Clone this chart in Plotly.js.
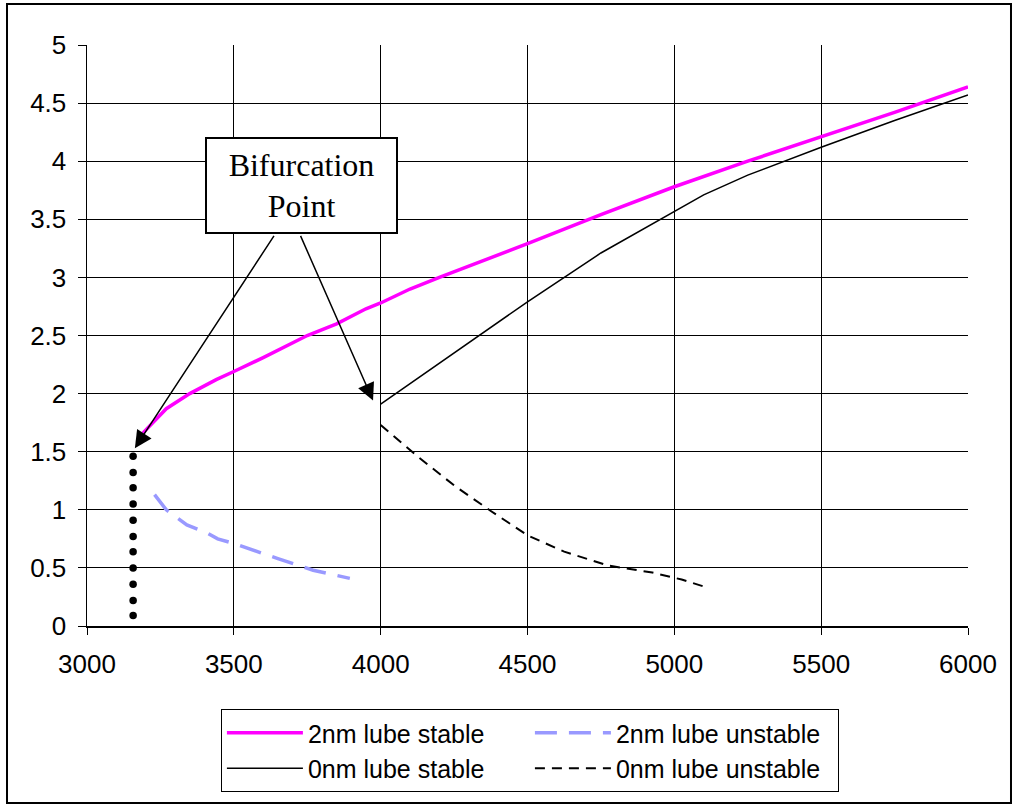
<!DOCTYPE html>
<html>
<head>
<meta charset="utf-8">
<script src="https://cdn.plot.ly/plotly-3.0.1.min.js"></script>
<style>
  html, body { margin: 0; padding: 0; background: #fff; }
  #chart { width: 1013px; height: 805px; }
</style>
</head>
<body>
<div id="chart"></div>
<script>
// ---- data ----
const stable2nmX = [3190, 3220, 3270, 3350, 3440, 3500, 3600, 3750, 3850, 3950, 4000, 4050, 4100, 4200, 4500, 4750, 5000, 5250, 5500, 5750, 6000];
const stable2nmY = [1.66, 1.74, 1.87, 2.00, 2.12, 2.19, 2.31, 2.50, 2.60, 2.73, 2.78, 2.84, 2.90, 3.00, 3.29, 3.54, 3.78, 4.00, 4.21, 4.42, 4.64];

const unstable2nmX = [3230, 3270, 3340, 3410, 3445, 3500, 3650, 3770, 3895];
const unstable2nmY = [1.13, 1.00, 0.87, 0.80, 0.75, 0.71, 0.58, 0.48, 0.41];

const stable0nmX = [4000, 4250, 4500, 4750, 5000, 5100, 5250, 5500, 5750, 6000];
const stable0nmY = [1.91, 2.35, 2.79, 3.21, 3.57, 3.71, 3.88, 4.12, 4.35, 4.57];

const unstable0nmX = [4000, 4130, 4250, 4375, 4500, 4625, 4775, 4925, 5025, 5100];
const unstable0nmY = [1.73, 1.45, 1.21, 0.99, 0.78, 0.64, 0.52, 0.46, 0.40, 0.34];

const bifurcLineX = [3157, 3157, 3157, 3157, 3157, 3157, 3157, 3157, 3157, 3157, 3157];
const bifurcLineY = [1.46, 1.32, 1.19, 1.05, 0.91, 0.77, 0.64, 0.50, 0.36, 0.22, 0.09];

const seriesNames = ['2nm lube stable', '2nm lube unstable', '0nm lube stable', '0nm lube unstable'];

const xTicks = [3000, 3500, 4000, 4500, 5000, 5500, 6000];
const yTicks = [0, 0.5, 1, 1.5, 2, 2.5, 3, 3.5, 4, 4.5, 5];

const calloutText = 'Bifurcation<br>Point';
const calloutPos = {x: 3732, y: 3.79};
const arrowTips = [{x: 3163, y: 1.53, ax: 3640, ay: 3.37}, {x: 3974, y: 1.94, ax: 3725, ay: 3.37}];

// ---- traces ----
const traces = [
  {x: stable2nmX, y: stable2nmY, name: seriesNames[0], mode: 'lines',
   line: {color: '#FF00FF', width: 3.5}},
  {x: unstable2nmX, y: unstable2nmY, name: seriesNames[1], mode: 'lines',
   line: {color: '#9999FF', width: 3.5, dash: '22px,12px'}},
  {x: stable0nmX, y: stable0nmY, name: seriesNames[2], mode: 'lines',
   line: {color: '#000000', width: 1.5}},
  {x: unstable0nmX, y: unstable0nmY, name: seriesNames[3], mode: 'lines',
   line: {color: '#000000', width: 2, dash: '10px,7px'}},
  {x: bifurcLineX, y: bifurcLineY, mode: 'markers', showlegend: false,
   marker: {color: '#000000', size: 7.5}}
];

const axisFont = {family: 'Liberation Sans, Arial, sans-serif', size: 26, color: '#000'};

const annotations = [
  {x: calloutPos.x, y: calloutPos.y, xref: 'x', yref: 'y', text: calloutText, showarrow: false,
   font: {family: 'Liberation Serif, Times New Roman, serif', size: 32, color: '#000'},
   bgcolor: '#fff', bordercolor: '#000', borderwidth: 2, borderpad: 0, width: 189, height: 93,
   align: 'center', valign: 'middle'}
];
arrowTips.forEach(a => annotations.push({
  x: a.x, y: a.y, xref: 'x', yref: 'y', axref: 'x', ayref: 'y', ax: a.ax, ay: a.ay,
  text: '', showarrow: true, arrowhead: 2, arrowsize: 2.3, arrowwidth: 1.5, arrowcolor: '#000'
}));

const layout = {
  width: 1013, height: 805,
  margin: {l: 87, r: 45, t: 45, b: 179},
  paper_bgcolor: '#fff', plot_bgcolor: '#fff',
  showlegend: true,
  xaxis: {range: [3000, 6000], tickvals: xTicks, ticktext: xTicks.map(String),
          showgrid: true, gridcolor: '#000', gridwidth: 1,
          showline: true, linecolor: '#000', linewidth: 1.5,
          ticks: 'outside', ticklen: 7, tickcolor: '#000', tickwidth: 1,
          tickfont: axisFont, zeroline: false, ticklabelstandoff: 7},
  yaxis: {range: [0, 5], tickvals: yTicks, ticktext: yTicks.map(String),
          showgrid: true, gridcolor: '#000', gridwidth: 1,
          showline: true, linecolor: '#000', linewidth: 1.5,
          ticks: 'outside', ticklen: 8, tickcolor: '#000', tickwidth: 1,
          tickfont: axisFont, zeroline: false, ticklabelstandoff: 6},
  legend: {orientation: 'h', x: 0.152, y: -0.143, xanchor: 'left', yanchor: 'top',
           bgcolor: '#fff', bordercolor: '#000', borderwidth: 1,
           font: {family: 'Liberation Sans, Arial, sans-serif', size: 25, color: '#000'},
           entrywidth: 217, entrywidthmode: 'pixels', itemwidth: 76},
  annotations: annotations,
  shapes: [
    {type: 'rect', xref: 'paper', yref: 'paper', x0: -0.0908, x1: 1.0488, y0: -0.3046, y1: 1.0706,
     line: {color: '#000', width: 2}, fillcolor: 'rgba(0,0,0,0)', layer: 'below'}
  ]
};

Plotly.newPlot('chart', traces, layout, {staticPlot: true, displayModeBar: false});
</script>
</body>
</html>
